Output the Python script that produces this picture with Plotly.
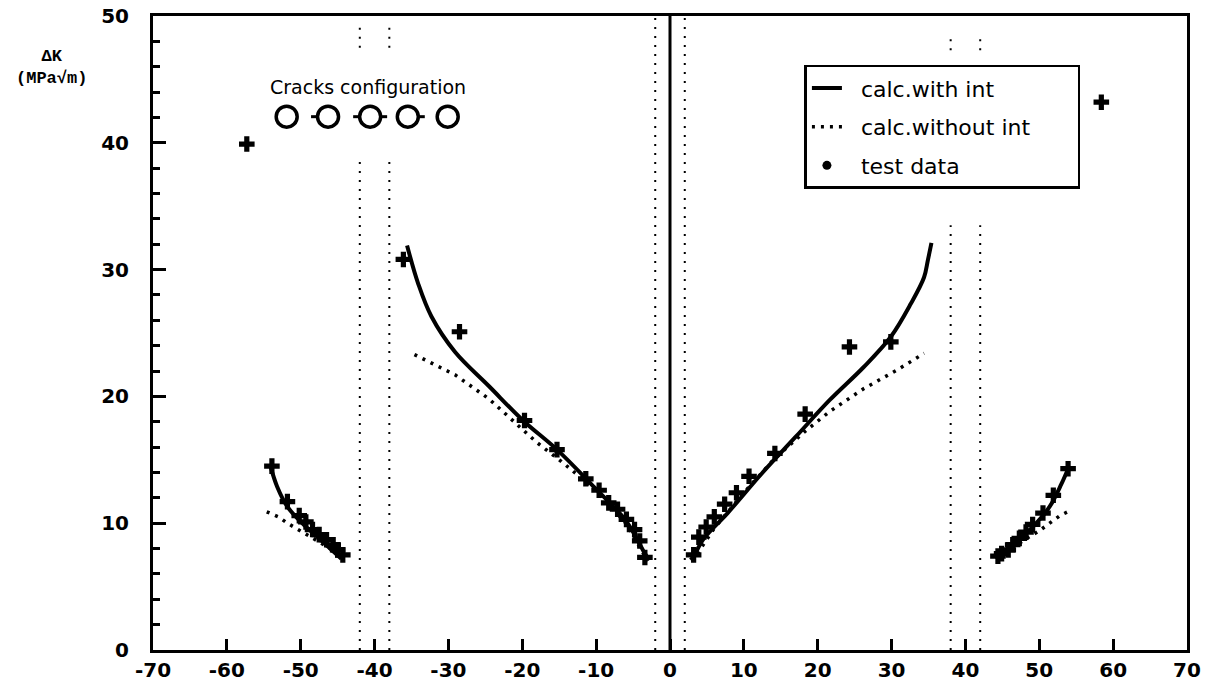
import plotly.graph_objects as go

# ---- data ----
# calc. with interaction (solid)
li_solid_x = [-35.6, -34.1, -32.3, -29.1, -24.5, -19.9, -15.3, -10.7, -6.1, -4.6, -3.4, -2.9]
li_solid_y = [31.9, 28.9, 26.3, 23.5, 20.8, 18.1, 15.8, 13.1, 10.3, 8.9, 7.6, 7.2]
lo_solid_x = [-54.1, -53.2, -51.8, -49.8, -47.5, -44.5]
lo_solid_y = [14.5, 12.9, 11.3, 10.0, 8.8, 7.2]
ri_solid_x = [2.8, 3.2, 4.6, 7.8, 12.4, 17.0, 21.6, 26.2, 29.9, 32.6, 34.4, 34.9, 35.4]
ri_solid_y = [7.1, 7.4, 8.8, 10.8, 13.9, 16.8, 19.7, 22.3, 24.7, 27.3, 29.4, 30.7, 32.1]
ro_solid_x = [44.1, 46.8, 49.1, 51.4, 53.0, 53.9]
ro_solid_y = [7.2, 8.5, 9.7, 11.3, 13.1, 14.3]

# calc. without interaction (dotted)
li_dot_x = [-34.6, -29.1, -24.5, -19.9, -18.1, -15.0, -10.0, -6.0, -3.0]
li_dot_y = [23.3, 21.7, 19.8, 17.4, 16.4, 15.0, 12.6, 10.0, 7.0]
lo_dot_x = [-54.6, -53.0, -51.8, -50.0, -48.0, -46.0, -44.5]
lo_dot_y = [10.9, 10.5, 10.0, 9.4, 8.7, 8.0, 7.3]
ri_dot_x = [3.0, 6.0, 10.0, 14.0, 18.4, 21.6, 26.2, 30.8, 34.4]
ri_dot_y = [7.0, 9.6, 12.4, 15.0, 17.3, 18.8, 20.6, 22.1, 23.4]
ro_dot_x = [44.3, 46.0, 48.0, 50.0, 51.6, 52.8, 54.2]
ro_dot_y = [7.2, 7.9, 8.7, 9.4, 10.1, 10.6, 11.0]

# test data
test_x = [-57.3, -36.1, -28.5, -19.7, -15.3, -11.4, -9.6, -8.3, -7.1, -5.9, -4.8, -4.1, -3.4,
          -53.9, -51.8, -50.2, -49.3, -48.4, -47.5, -46.5, -45.6, -45.0, -44.3,
          3.2, 3.9, 4.9, 6.0, 7.4, 9.0, 10.7, 14.2, 18.3, 24.3, 29.9,
          44.4, 44.9, 45.8, 46.4, 47.3, 48.2, 49.1, 50.5, 51.9, 53.9,
          58.4]
test_y = [39.9, 30.8, 25.1, 18.1, 15.8, 13.5, 12.6, 11.6, 11.1, 10.3, 9.5, 8.6, 7.3,
          14.5, 11.7, 10.6, 10.1, 9.5, 9.1, 8.7, 8.3, 7.9, 7.5,
          7.5, 8.9, 9.7, 10.5, 11.5, 12.4, 13.7, 15.5, 18.6, 23.9, 24.3,
          7.4, 7.6, 7.9, 8.3, 8.8, 9.3, 9.9, 10.8, 12.2, 14.3,
          43.2]

# vertical reference lines (crack tips / holes)
vline_x = [-42, -42, -38, -38, -2, 2, 38, 38, 42, 42]
vline_y0 = [0, 47.5, 0, 47.5, 0, 0, 0, 47.3, 0, 47.3]
vline_y1 = [39, 49.5, 39, 49.5, 50, 50, 33.5, 48.7, 33.5, 48.7]

# cracks configuration sketch
conf_x = [-51.9, -46.3, -40.6, -35.5, -30.1]
conf_y = 42.06
conf_left_tick = [False, True, True, False, False]
conf_right_tick = [False, False, True, True, False]

x_ticks = [-70, -60, -50, -40, -30, -20, -10, 0, 10, 20, 30, 40, 50, 60, 70]
y_ticks = [0, 10, 20, 30, 40, 50]

legend_names = ["calc.with int", "calc.without int", "test data"]

fig = go.Figure()

def join(xs_list, ys_list):
    X, Y = [], []
    for xs, ys in zip(xs_list, ys_list):
        X += list(xs) + [None]
        Y += list(ys) + [None]
    return X, Y

NB = "\u00a0"
def lname(s):
    return NB * 2 + s.replace(" ", NB) + NB * 6

# vertical dotted lines
vx, vy = join([[v, v] for v in vline_x], [[a, b] for a, b in zip(vline_y0, vline_y1)])
fig.add_trace(go.Scatter(x=vx, y=vy, mode="lines", showlegend=False, hoverinfo="skip",
                         line=dict(color="black", width=2, dash="2px,7px")))
# zero line
fig.add_trace(go.Scatter(x=[0, 0], y=[0, 50], mode="lines", showlegend=False, hoverinfo="skip",
                         line=dict(color="black", width=3)))

sx, sy = join([li_solid_x, lo_solid_x, ri_solid_x, ro_solid_x],
              [li_solid_y, lo_solid_y, ri_solid_y, ro_solid_y])
fig.add_trace(go.Scatter(x=sx, y=sy, mode="lines", name=lname(legend_names[0]), legendgroup="a",
                         line=dict(color="black", width=4, shape="spline", smoothing=1.0)))
dx, dy = join([li_dot_x, lo_dot_x, ri_dot_x, ro_dot_x],
              [li_dot_y, lo_dot_y, ri_dot_y, ro_dot_y])
fig.add_trace(go.Scatter(x=dx, y=dy, mode="lines", name=lname(legend_names[1]), legendgroup="b",
                         line=dict(color="black", width=3.5, dash="3px,6px")))
fig.add_trace(go.Scatter(x=test_x, y=test_y, mode="markers", showlegend=False,
                         marker=dict(symbol="cross", size=13, color="black")))
fig.add_trace(go.Scatter(x=[None], y=[None], mode="markers", name=lname(legend_names[2]), legendgroup="c",
                         marker=dict(symbol="circle", size=9, color="black")))

# crack configuration circles
fig.add_trace(go.Scatter(x=conf_x, y=[conf_y] * len(conf_x), mode="markers", showlegend=False,
                         hoverinfo="skip",
                         marker=dict(symbol="circle-open", size=21, color="black",
                                     line=dict(width=3.5, color="black"))))
tx, ty = [], []
for cx, lt, rt in zip(conf_x, conf_left_tick, conf_right_tick):
    if lt:
        tx += [cx - 2.3, cx - 1.3, None]
        ty += [conf_y, conf_y, None]
    if rt:
        tx += [cx + 1.3, cx + 2.3, None]
        ty += [conf_y, conf_y, None]
fig.add_trace(go.Scatter(x=tx, y=ty, mode="lines", showlegend=False, hoverinfo="skip",
                         line=dict(color="black", width=3)))

fig.add_annotation(x=-40.9, y=44.4, text="Cracks configuration", showarrow=False,
                   font=dict(family="DejaVu Sans", size=19, color="black"))
# y-axis title
fig.add_annotation(x=-0.098, y=0.955, xref="paper", yref="paper",
                   text="ΔK<br>(MPa√m)", showarrow=False, align="center",
                   xanchor="center", yanchor="top",
                   font=dict(family="Liberation Mono", size=17, color="black", weight="bold"))

axis_font = dict(family="DejaVu Sans", size=20, color="black", weight="bold")
fig.update_xaxes(range=[-70, 70], tickvals=x_ticks, ticktext=[str(v) for v in x_ticks],
                 ticks="inside", ticklen=11, tickwidth=2.5, tickcolor="black",
                 showline=True, linewidth=3, linecolor="black", mirror=True, automargin=False,
                 showgrid=False, zeroline=False, tickfont=axis_font, ticklabelstandoff=0)
fig.update_yaxes(range=[0, 50], tickvals=y_ticks, ticktext=[str(v) for v in y_ticks],
                 ticks="inside", ticklen=13, tickwidth=2.5, tickcolor="black",
                 minor=dict(tickvals=[v for v in range(0, 51, 2) if v % 10], ticks="inside",
                            ticklen=7, tickwidth=2.5, tickcolor="black"),
                 showline=True, linewidth=3, linecolor="black", mirror=True, automargin=False,
                 showgrid=False, zeroline=False, tickfont=axis_font, ticklabelstandoff=17)

fig.update_layout(
    width=1205, height=693,
    margin=dict(l=153, r=18, t=16, b=43, autoexpand=False),
    paper_bgcolor="white", plot_bgcolor="white",
    legend=dict(x=0.63, y=0.923, xanchor="left", yanchor="top",
                bordercolor="black", borderwidth=2.5, bgcolor="white",
                font=dict(family="DejaVu Sans", size=22, color="black"),
                traceorder="grouped", tracegroupgap=7, itemwidth=30),
    showlegend=True,
)

fig.write_html("out.html")
